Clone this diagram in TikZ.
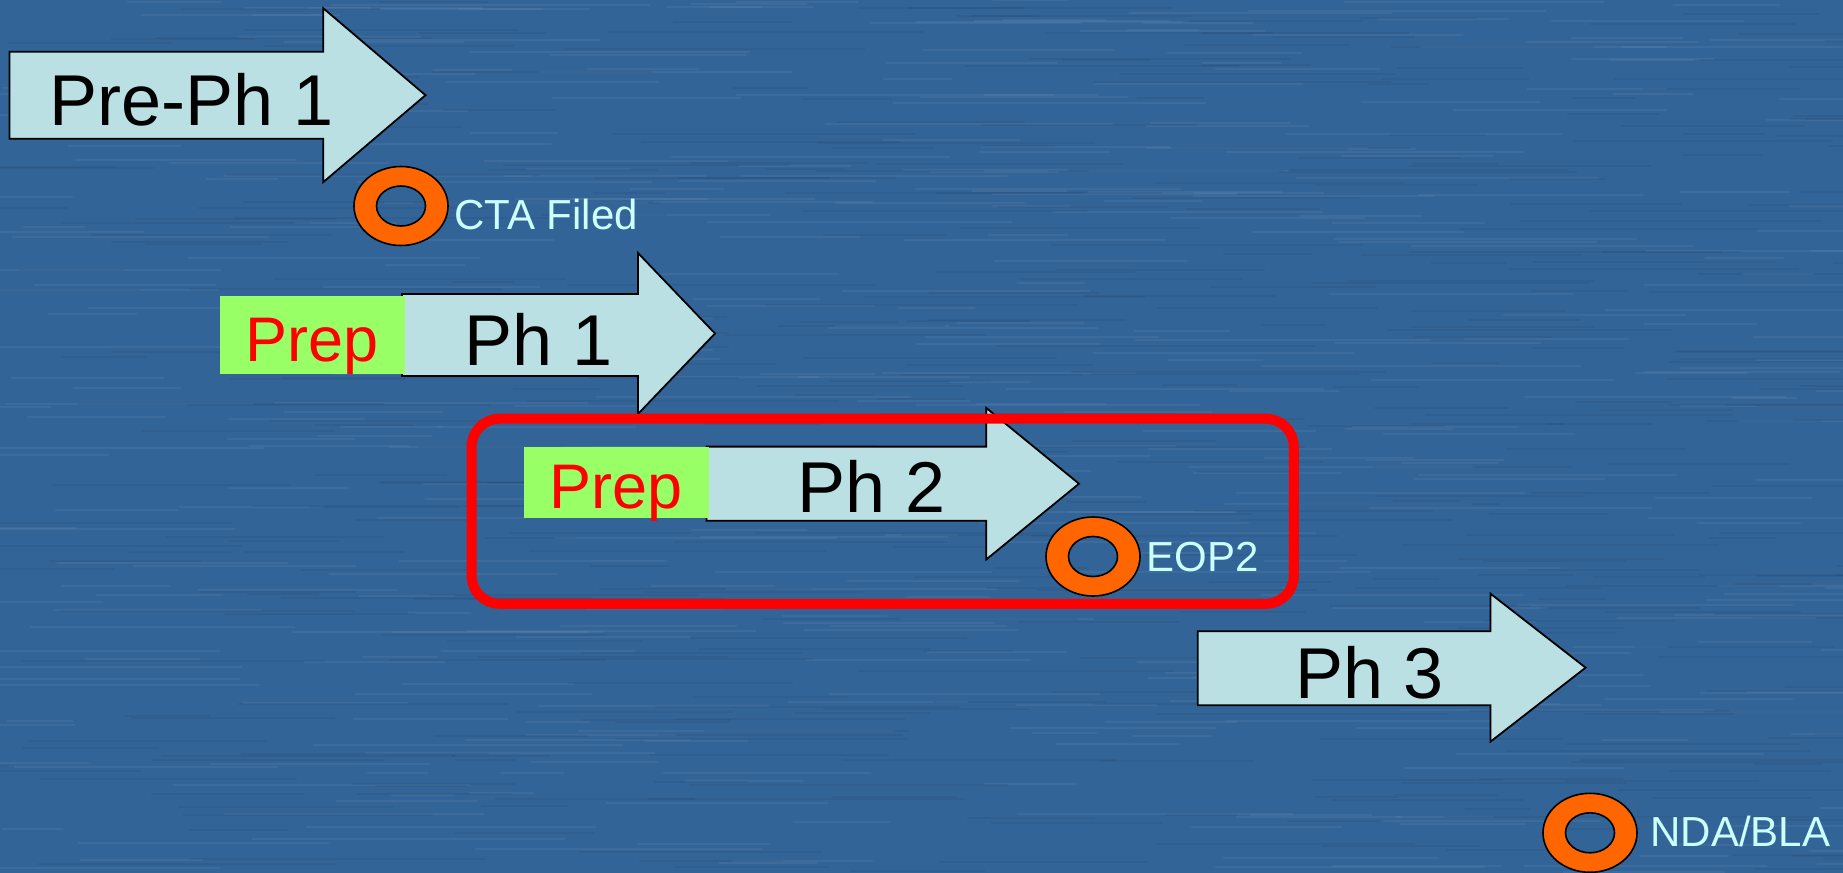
\documentclass[tikz,border=0pt]{standalone}
\usepackage{fontspec}
\setmainfont{Liberation Sans}
\definecolor{bgblue}{RGB}{50,100,151}
\definecolor{arrowfill}{RGB}{186,224,227}
\definecolor{prepgreen}{RGB}{153,255,102}
\definecolor{ringorange}{RGB}{255,102,0}
\definecolor{labelcyan}{RGB}{204,255,255}
\tikzset{
  phasearrow/.style={draw=black, line width=0.9pt, fill=arrowfill, line join=miter},
  prepbox/.style={fill=prepgreen, draw=none},
  phaselabel/.style={anchor=base, font=\fontsize{36}{40}\selectfont, text=black, inner sep=0pt},
  preplabel/.style={anchor=base, font=\fontsize{31.5}{36}\selectfont, text=red, inner sep=0pt},
  milestone/.style={anchor=base west, font=\fontsize{21}{25}\selectfont, text=labelcyan, inner sep=0pt},
  ring/.style={fill=ringorange, draw=black, line width=0.8pt, even odd rule},
  focusbox/.style={draw=red, line width=5pt, rounded corners=14pt}
}
% block arrow: body x0..xs between ytop/ybot, head from yht to yhb, tip at xt
\newcommand{\blockarrow}[7]{%
  \pgfmathsetmacro{\tipy}{(#5+#6)/2}
  \draw[phasearrow] (#1,#2) -- (#4,#2) -- (#4,#5) -- (#7,\tipy) -- (#4,#6) -- (#4,#3) -- (#1,#3) -- cycle;}
% milestone ring centred at (x,y)
\newcommand{\msring}[2]{%
  \path[ring] (#1,#2) ellipse [x radius=47, y radius=39.5] (#1,#2) ellipse [x radius=24.5, y radius=20];}
\begin{document}
\begin{tikzpicture}[x=0.5pt, y=-0.5pt]
  \useasboundingbox (0,0) rectangle (1843,873);
  % textured blue background
  \fill[bgblue] (0,0) rectangle (1843,873);
  \pgfmathsetseed{11}
  \foreach \i in {1,...,420} {
    \pgfmathsetmacro{\xa}{rnd*1900-60}
    \pgfmathsetmacro{\ya}{rnd*873}
    \pgfmathsetmacro{\len}{60+rnd*260}
    \draw[white, opacity=0.05, line width=1pt] (\xa,\ya) -- ++(\len,0);
  }
  \foreach \i in {1,...,420} {
    \pgfmathsetmacro{\xa}{rnd*1900-60}
    \pgfmathsetmacro{\ya}{rnd*873}
    \pgfmathsetmacro{\len}{60+rnd*260}
    \draw[black, opacity=0.05, line width=1pt] (\xa,\ya) -- ++(\len,0);
  }

  % Pre-phase 1
  \blockarrow{9.4}{51.7}{138.7}{323.2}{8.2}{182.2}{425.5}
  \node[phaselabel] (preph1) at (192,125) {Pre-Ph 1};

  % CTA filed milestone
  \msring{401}{206}
  \node[milestone] (cta) at (454,229.5) {CTA Filed};

  % Phase 1 with preparation block
  \blockarrow{402}{294}{376}{638}{253}{414}{715}
  \fill[prepbox] (220,296) rectangle (405,374);
  \node[preplabel] (prep1) at (312,361.5) {Prep};
  \node[phaselabel] (ph1) at (539,365) {Ph 1};

  % Phase 2 with preparation block
  \blockarrow{706.4}{446.6}{520.7}{986.2}{407.9}{559.5}{1079}
  \fill[prepbox] (524,446.6) rectangle (709,518.3);
  \node[preplabel] (prep2) at (616.5,508.5) {Prep};
  \node[phaselabel] (ph2) at (872,512) {Ph 2};

  % End of phase 2 milestone
  \msring{1093}{556.5}
  \node[milestone] (eop2) at (1146,571) {EOP2};

  % highlight around phase 2
  \draw[focusbox] (471.6,418.7) rectangle (1293.8,603.8);

  % Phase 3
  \blockarrow{1197.7}{631.2}{705.2}{1490.4}{593.6}{741.7}{1585.6}
  \node[phaselabel] (ph3) at (1370,698) {Ph 3};

  % NDA/BLA milestone
  \msring{1590}{832.8}
  \node[milestone] (nda) at (1650,846) {NDA/BLA};
\end{tikzpicture}
\end{document}
